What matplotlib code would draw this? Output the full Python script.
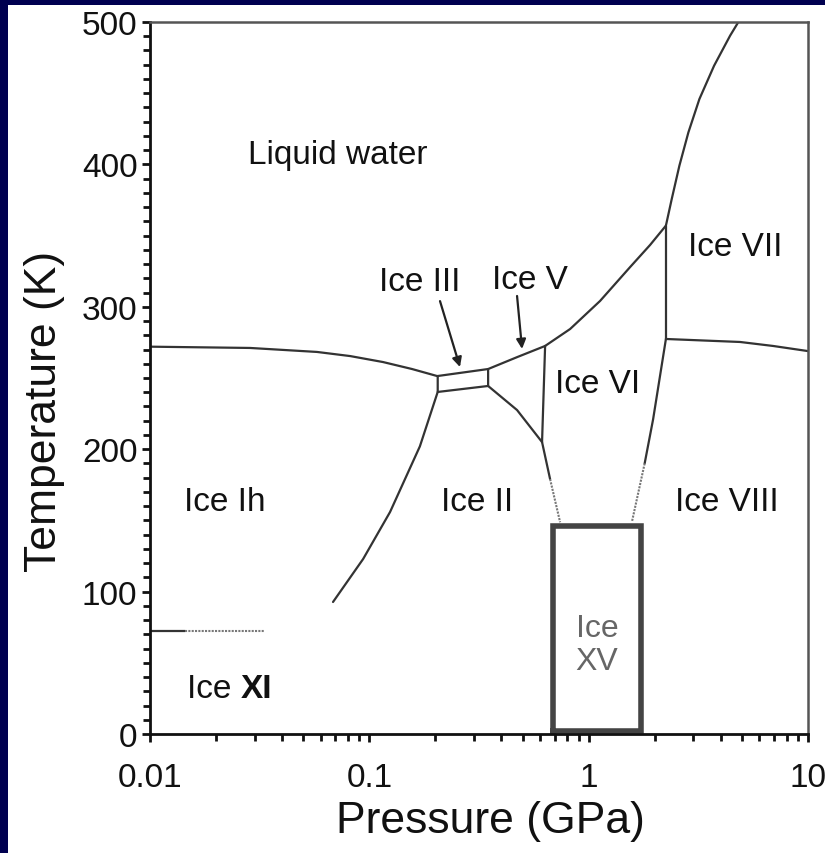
import matplotlib
matplotlib.use("Agg")
import matplotlib.pyplot as plt
from matplotlib.patches import Rectangle
from matplotlib.ticker import FixedLocator, NullFormatter, LogLocator

plt.rcParams['font.family'] = ['Liberation Sans', 'DejaVu Sans']

# ---- phase boundaries (P in GPa, T in K) ----
ih_liq_P = [0.01, 0.0286, 0.0577, 0.0818, 0.1155, 0.1566, 0.2035]
ih_liq_T = [272, 271.1, 268.3, 265.4, 261.2, 256.3, 251.4]

ice3_P = [0.205, 0.348, 0.348, 0.205, 0.205]
ice3_T = [251.4, 256.3, 244.4, 240.2, 251.4]

liq_v_P = [0.348, 0.4725, 0.633]
liq_v_T = [256.3, 264.7, 272.5]

liq_vi_P = [0.633, 0.823, 1.127, 1.545, 1.905, 2.25]
liq_vi_T = [272.5, 284.4, 304.1, 327.9, 343.4, 357.0]

liq_vii_P = [2.25, 2.392, 2.592, 2.849, 3.198, 3.731, 4.414, 4.815]
liq_vii_T = [357.0, 375.7, 399.1, 422.5, 445.9, 469.3, 490.4, 500.0]

vi_vii_P = [2.25, 2.25]
vi_vii_T = [357.0, 277.4]

vii_viii_P = [2.25, 4.90, 6.93, 10.0]
vii_viii_T = [277.4, 275.3, 272.5, 268.9]

v_vi_P = [0.633, 0.613]
v_vi_T = [272.5, 205.0]

ii_v_P = [0.348, 0.4715, 0.613]
ii_v_T = [244.4, 227.5, 205.0]

ii_vi_P = [0.613, 0.667]
ii_vi_T = [205.0, 179.0]
ii_vi_dot_P = [0.667, 0.741]
ii_vi_dot_T = [179.0, 148.7]

vi_viii_P = [2.25, 1.967, 1.80]
vi_viii_T = [277.4, 221.0, 190.0]
vi_viii_dot_P = [1.80, 1.578]
vi_viii_dot_T = [190.0, 149.6]

ih_ii_P = [0.205, 0.170, 0.1243, 0.0937, 0.0683]
ih_ii_T = [240.2, 202.0, 155.9, 122.9, 92.7]

xi_P = [0.01, 0.0144]
xi_T = [72, 72]
xi_dot_P = [0.0144, 0.0335]
xi_dot_T = [72, 72]

# Ice XV box
xv_P = [0.688, 0.688, 1.73, 1.73, 0.688]
xv_T = [2, 146, 146, 2, 2]

# labels: (text, P, T)
labels = [
    ("Liquid water", 0.072, 407),
    ("Ice III", 0.170, 318),
    ("Ice V", 0.54, 319),
    ("Ice VI", 1.10, 246),
    ("Ice VII", 4.65, 342),
    ("Ice Ih", 0.022, 163),
    ("Ice II", 0.31, 163),
    ("Ice VIII", 4.28, 163),
]

# arrows: (tail P, tail T, head P, head T)
arrows = [
    (0.210, 304, 0.259, 257.7),
    (0.4715, 307.6, 0.497, 270.4),
]

fig = plt.figure(figsize=(8.25, 8.54), dpi=100)
fig.patch.set_facecolor('#000050')
fig.add_artist(Rectangle((8 / 825, 0), 1 - 8 / 825, (854 - 6) / 854,
                         transform=fig.transFigure, facecolor='white',
                         edgecolor='none', zorder=0))

ax = fig.add_axes([150 / 825, (854 - 735) / 854, (808 - 150) / 825, (735 - 23) / 854])
ax.set_xscale('log')
ax.set_xlim(0.01, 10)
ax.set_ylim(0, 500)

lc = '#333333'
lw = 1.6
for P, T in [(ih_liq_P, ih_liq_T), (ice3_P, ice3_T), (liq_v_P, liq_v_T),
             (liq_vi_P, liq_vi_T), (liq_vii_P, liq_vii_T), (vi_vii_P, vi_vii_T),
             (vii_viii_P, vii_viii_T), (v_vi_P, v_vi_T), (ii_v_P, ii_v_T),
             (ii_vi_P, ii_vi_T), (vi_viii_P, vi_viii_T), (ih_ii_P, ih_ii_T),
             (xi_P, xi_T)]:
    ax.plot(P, T, color=lc, lw=lw, solid_capstyle='round', solid_joinstyle='round')

for P, T in [(ii_vi_dot_P, ii_vi_dot_T), (vi_viii_dot_P, vi_viii_dot_T),
             (xi_dot_P, xi_dot_T)]:
    ax.plot(P, T, color='#777777', lw=1.5, linestyle=(0, (1, 0.6)))

ax.plot(xv_P, xv_T, color='#444444', lw=4.0, solid_joinstyle='miter', clip_on=False)

for text, P, T in labels:
    ax.text(P, T, text, ha='center', va='center', fontsize=24, color='#111111')

ax.text(1.09, 63, "Ice\nXV", ha='center', va='center', fontsize=23,
        color='#666666', linespacing=1.15)

t = ax.text(0.0148, 32, "Ice ", ha='left', va='center', fontsize=24, color='#111111')
ax.annotate("XI", xy=(1, 0.5), xycoords=t, ha='left', va='center',
            fontsize=24, fontweight='bold', color='#111111')

for tp, tt, hp, ht in arrows:
    ax.annotate("", xy=(hp, ht), xytext=(tp, tt),
                arrowprops=dict(arrowstyle='-|>', color='#222222', lw=1.6,
                                mutation_scale=14, shrinkA=0, shrinkB=0))

# axes styling
for s in ['left', 'bottom']:
    ax.spines[s].set_color('#111111')
    ax.spines[s].set_linewidth(2.0)
for s in ['top', 'right']:
    ax.spines[s].set_color('#555555')
    ax.spines[s].set_linewidth(1.8)

ax.set_yticks([0, 100, 200, 300, 400, 500])
ax.yaxis.set_minor_locator(FixedLocator(list(range(0, 501, 10))))
ax.xaxis.set_major_locator(FixedLocator([0.01, 0.1, 1, 10]))
ax.xaxis.set_minor_locator(LogLocator(base=10, subs=range(2, 10)))
ax.xaxis.set_minor_formatter(NullFormatter())
ax.set_xticklabels(['0.01', '0.1', '1', '10'])
ax.tick_params(axis='both', which='major', direction='out', length=6, width=2,
               labelsize=24, color='#111111', labelcolor='#111111', pad=3)
ax.tick_params(axis='x', which='major', pad=14)
ax.tick_params(axis='both', which='minor', direction='out', length=5, width=2,
               color='#111111')
ax.tick_params(top=False, right=False, which='both')

ax.set_xlabel("Pressure (GPa)", fontsize=32, color='#111111')
ax.set_ylabel("Temperature (K)", fontsize=32, color='#111111')
ax.xaxis.label.set_va('center')
ax.yaxis.label.set_va('center')
ax.xaxis.set_label_coords(0.517, -0.122)
ax.yaxis.set_label_coords(-0.16, 0.455)

fig.savefig("out.png", dpi=100, facecolor=fig.get_facecolor())
